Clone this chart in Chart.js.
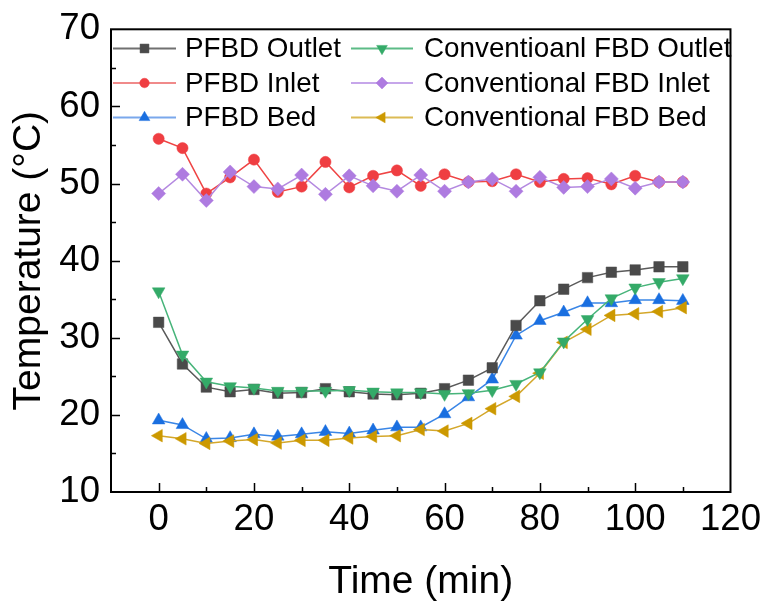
<!DOCTYPE html>
<html>
<head>
<meta charset="utf-8">
<script src="https://cdn.jsdelivr.net/npm/chart.js@4.4.1/dist/chart.umd.min.js"></script>
<style>
html, body { margin: 0; padding: 0; background: #fff; }
#chart { display: block; }
</style>
</head>
<body>
<canvas id="chart" width="771" height="604"></canvas>
<script>
const FONT = '"Liberation Sans", Arial, sans-serif';

// time axis (min)
const times = [0, 5, 10, 15, 20, 25, 30, 35, 40, 45, 50, 55, 60, 65, 70, 75, 80, 85, 90, 95, 100, 105, 110];
const xTicks = [0, 20, 40, 60, 80, 100, 120];
const yTicks = [10, 20, 30, 40, 50, 60, 70];

// temperatures (°C)
const pfbdOutlet = [32.0, 26.6, 23.6, 23.0, 23.3, 22.8, 22.9, 23.4, 23.0, 22.7, 22.6, 22.8, 23.4, 24.5, 26.1, 31.6, 34.8, 36.3, 37.8, 38.5, 38.8, 39.2, 39.2];
const pfbdInlet = [55.8, 54.6, 48.7, 50.8, 53.1, 48.9, 49.6, 52.8, 49.5, 51.0, 51.7, 49.7, 51.2, 50.2, 50.3, 51.2, 50.2, 50.6, 50.7, 49.9, 51.0, 50.2, 50.2];
const pfbdBed = [19.3, 18.7, 16.9, 17.0, 17.5, 17.2, 17.5, 17.8, 17.6, 18.0, 18.4, 18.4, 20.1, 22.3, 24.6, 30.3, 32.2, 33.3, 34.5, 34.5, 34.9, 34.9, 34.8];
const convOutlet = [36.0, 27.8, 24.3, 23.7, 23.5, 23.1, 23.1, 23.1, 23.2, 23.0, 22.9, 22.9, 22.7, 22.8, 23.2, 24.0, 25.5, 29.5, 32.4, 35.1, 36.5, 37.2, 37.7];
const convInlet = [48.7, 51.2, 47.8, 51.5, 49.6, 49.3, 51.1, 48.6, 51.0, 49.7, 49.0, 51.1, 49.0, 50.2, 50.6, 49.0, 50.8, 49.5, 49.6, 50.6, 49.4, 50.2, 50.2];
const convBed = [17.3, 16.9, 16.3, 16.6, 16.8, 16.35, 16.7, 16.7, 17.0, 17.2, 17.3, 18.1, 17.9, 18.9, 20.8, 22.4, 25.4, 29.4, 31.1, 32.9, 33.1, 33.4, 33.9];

function pts(values) {
	return values.map((v, i) => ({x: times[i], y: v}));
}

const datasets = [
	{label: 'PFBD Outlet', data: pts(pfbdOutlet), borderColor: '#5a5a5a', backgroundColor: '#4a4a4a', legendLine: '#707070', pointStyle: 'rect', pointRadius: 7.4, rotation: 0, order: 1},
	{label: 'PFBD Inlet', data: pts(pfbdInlet), borderColor: '#ef4444', backgroundColor: '#ef3e42', legendLine: '#f08a8a', pointStyle: 'circle', pointRadius: 5.6, rotation: 0, order: 1},
	{label: 'PFBD Bed', data: pts(pfbdBed), borderColor: '#3a86e6', backgroundColor: '#1a6fe0', legendLine: '#7aa8ec', pointStyle: 'triangle', pointRadius: 7.3, rotation: 0, order: 1},
	{label: 'Conventioanl FBD Outlet', data: pts(convOutlet), borderColor: '#47b47a', backgroundColor: '#34aa68', legendLine: '#5cbb86', pointStyle: 'triangle', pointRadius: 7.3, rotation: 180, order: 0},
	{label: 'Conventional FBD Inlet', data: pts(convInlet), borderColor: '#b489e0', backgroundColor: '#ae7be0', legendLine: '#c6a6ea', pointStyle: 'rectRot', pointRadius: 7, rotation: 0, order: 0},
	{label: 'Conventional FBD Bed', data: pts(convBed), borderColor: '#d4a72a', backgroundColor: '#cc9900', legendLine: '#dcbb55', pointStyle: 'triangle', pointRadius: 7.3, rotation: -90, order: 0},
];

datasets.forEach(ds => {
	ds.borderWidth = 1.5;
	ds.pointBackgroundColor = ds.backgroundColor;
	ds.pointBorderColor = ds.backgroundColor;
	ds.pointBorderWidth = 0.5;
	ds.pointRotation = ds.rotation;
	ds.fill = false;
	ds.tension = 0;
});

// legend: two columns, three rows
const legendCols = [[0, 1, 2], [3, 4, 5]];

const framePlugin = {
	id: 'frame',
	afterDraw(chart) {
		const {ctx, chartArea: a, scales: {x, y}} = chart;
		ctx.save();
		ctx.strokeStyle = '#000';
		// inside ticks on bottom and left
		ctx.lineWidth = 1.5;
		ctx.beginPath();
		for (let v = 0; v <= 110; v += 10) {
			const px = Math.round(x.getPixelForValue(v)) + 0.5;
			const len = v % 20 === 0 ? 9 : 5;
			ctx.moveTo(px, a.bottom);
			ctx.lineTo(px, a.bottom - len);
		}
		for (let v = 15; v <= 65; v += 5) {
			const py = Math.round(y.getPixelForValue(v)) + 0.5;
			const len = v % 10 === 0 ? 9 : 5;
			ctx.moveTo(a.left, py);
			ctx.lineTo(a.left + len, py);
		}
		ctx.stroke();
		ctx.lineWidth = 2;
		ctx.strokeRect(a.left, a.top, a.right - a.left, a.bottom - a.top);
		ctx.restore();
	}
};

const legendPlugin = {
	id: 'cornerLegend',
	afterDraw(chart) {
		const ctx = chart.ctx;
		const colX = [{line0: 113, line1: 176, text: 185}, {line0: 351, line1: 413, text: 424}];
		const rowY = [48.5, 83, 117.5];
		ctx.save();
		ctx.font = '27.8px ' + FONT;
		ctx.textBaseline = 'middle';
		ctx.textAlign = 'left';
		legendCols.forEach((col, c) => {
			col.forEach((idx, r) => {
				const ds = chart.data.datasets[idx];
				const cx = colX[c];
				const yy = rowY[r];
				ctx.strokeStyle = ds.legendLine;
				ctx.lineWidth = 2;
				ctx.beginPath();
				ctx.moveTo(cx.line0, yy);
				ctx.lineTo(cx.line1, yy);
				ctx.stroke();
				ctx.fillStyle = ds.backgroundColor;
				ctx.strokeStyle = ds.backgroundColor;
				ctx.lineWidth = 0.5;
				Chart.helpers.drawPoint(ctx, {pointStyle: ds.pointStyle, radius: ds.pointRadius * 0.85, rotation: ds.rotation, borderWidth: 0.5}, (cx.line0 + cx.line1) / 2, yy);
				ctx.fillStyle = '#000';
				ctx.fillText(ds.label, cx.text, yy + 1);
			});
		});
		ctx.restore();
	}
};

new Chart(document.getElementById('chart'), {
	type: 'line',
	data: {datasets: datasets},
	options: {
		responsive: false,
		animation: false,
		layout: {padding: {top: 26, right: 37, left: 0, bottom: 0}},
		plugins: {legend: {display: false}, tooltip: {enabled: false}},
		scales: {
			x: {
				type: 'linear',
				min: -10,
				max: 120,
				afterBuildTicks: s => { s.ticks = xTicks.map(v => ({value: v})); },
				afterFit: s => { s.height = 112; },
				grid: {display: false, drawTicks: false},
				border: {display: false},
				ticks: {color: '#000', padding: 10, maxRotation: 0, autoSkip: false, font: {family: FONT, size: 36.6, lineHeight: 1}},
				title: {display: true, text: 'Time (min)', color: '#000', padding: {top: 0, bottom: 2}, font: {family: FONT, size: 39, lineHeight: 1}}
			},
			y: {
				min: 10,
				max: 70,
				afterBuildTicks: s => { s.ticks = yTicks.map(v => ({value: v})); },
				afterFit: s => { s.width = 111; },
				grid: {display: false, drawTicks: false},
				border: {display: false},
				ticks: {color: '#000', padding: 11, autoSkip: false, font: {family: FONT, size: 36.6, lineHeight: 1}},
				title: {display: true, text: 'Temperature (°C)', color: '#000', padding: {top: 9.5, bottom: 0}, font: {family: FONT, size: 39, lineHeight: 1}}
			}
		}
	},
	plugins: [framePlugin, legendPlugin]
});
</script>
</body>
</html>
